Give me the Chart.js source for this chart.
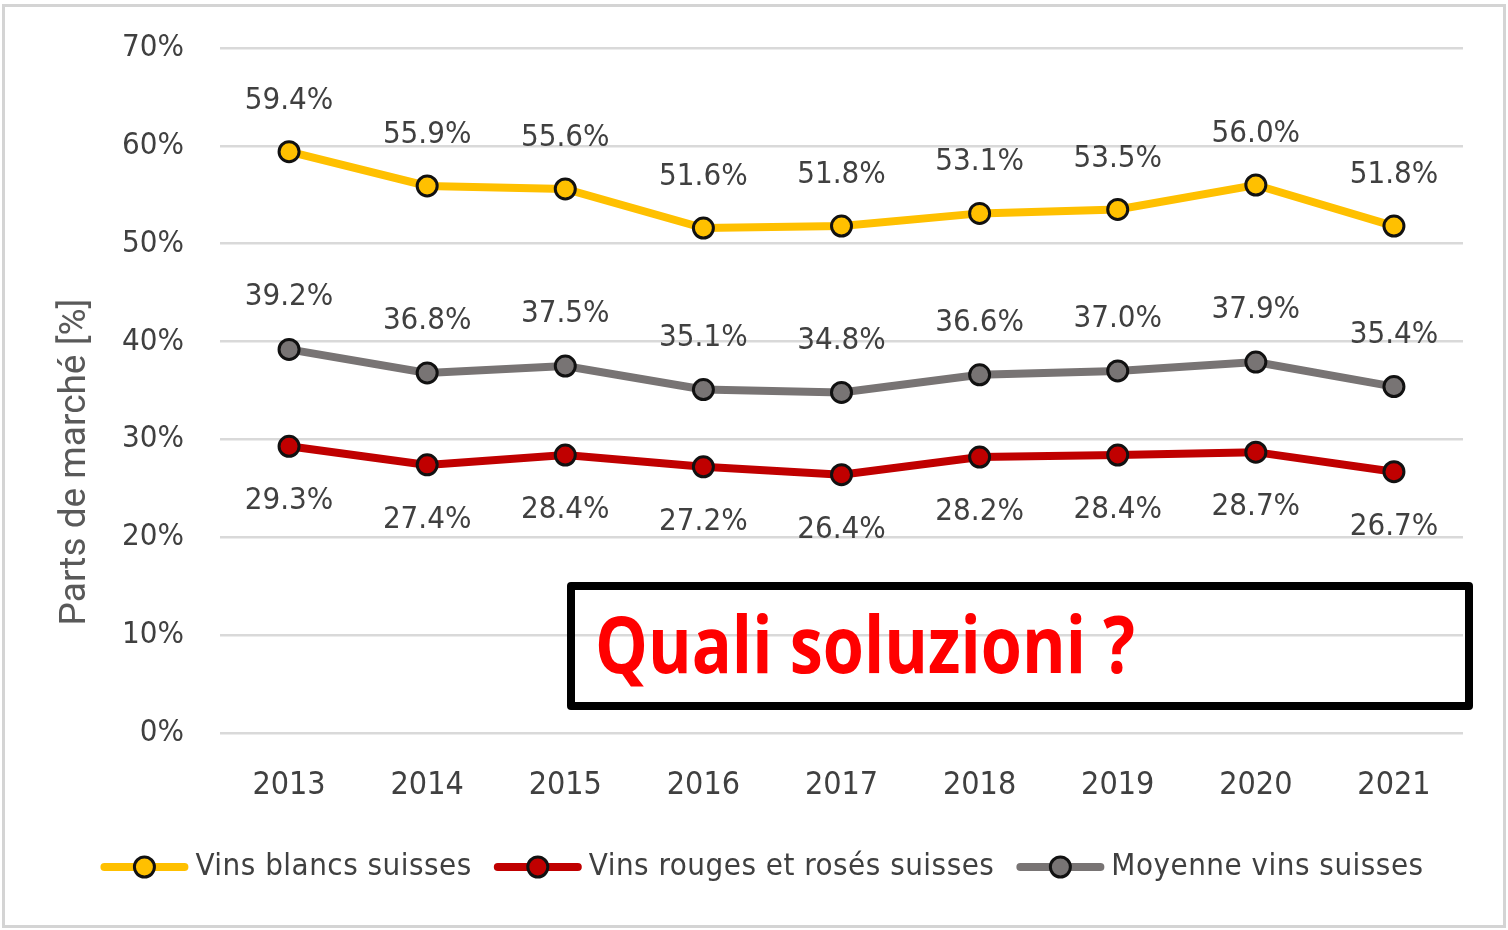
<!DOCTYPE html>
<html>
<head>
<meta charset="utf-8">
<script src="https://cdn.jsdelivr.net/npm/chart.js@4"></script>
<style>
  html, body { margin: 0; padding: 0; background: #fff; }
  canvas { display: block; }
</style>
</head>
<body>
<canvas id="chart" width="1508" height="930"></canvas>
<script>
// Values
const years = ['2013', '2014', '2015', '2016', '2017', '2018', '2019', '2020', '2021'];
const blancs = [59.4, 55.9, 55.6, 51.6, 51.8, 53.1, 53.5, 56.0, 51.8];
const rouges = [29.3, 27.4, 28.4, 27.2, 26.4, 28.2, 28.4, 28.7, 26.7];
const moyenne = [39.2, 36.8, 37.5, 35.1, 34.8, 36.6, 37.0, 37.9, 35.4];
const yTicks = [0, 10, 20, 30, 40, 50, 60, 70];

const DIN = "'DejaVu Sans Condensed', 'DejaVu Sans', sans-serif";
const TXT = '#404040';

const COLORS = { yellow: '#FFC000', red: '#C00000', gray: '#787474' };

// data labels above/below each point
const labelPlugin = {
  id: 'pointLabels',
  afterDatasetsDraw(chart) {
    const ctx = chart.ctx;
    ctx.save();
    ctx.font = `31px ${DIN}`;
    ctx.fillStyle = TXT;
    ctx.textAlign = 'center';
    ctx.textBaseline = 'middle';
    chart.data.datasets.forEach((ds, di) => {
      const meta = chart.getDatasetMeta(di);
      meta.data.forEach((pt, i) => {
        ctx.fillText(ds.data[i].toFixed(1) + '%', pt.x, pt.y + ds.labelOffset);
      });
    });
    ctx.restore();
  }
};

// frame, y title, legend and the annotation box
const decorPlugin = {
  id: 'decor',
  afterDraw(chart) {
    const ctx = chart.ctx;
    ctx.save();

    // outer frame
    ctx.strokeStyle = '#d4d4d4';
    ctx.lineWidth = 3;
    ctx.strokeRect(3.5, 5.5, 1501, 921);

    // y axis title
    ctx.save();
    ctx.translate(76, 462);
    ctx.rotate(-Math.PI / 2);
    ctx.font = "37px Roboto, 'Noto Sans', sans-serif";
    ctx.fillStyle = '#595959';
    ctx.textAlign = 'center';
    ctx.textBaseline = 'middle';
    ctx.fillText('Parts de marché [%]', 0, 0);
    ctx.restore();

    // legend
    const items = chart.data.datasets.slice().sort((a, b) => a.legendOrder - b.legendOrder);
    ctx.font = `31px ${DIN}`;
    ctx.letterSpacing = '0.5px';
    const lineLen = 88, gapText = 7, gapItem = 22;
    const widths = items.map(d => ctx.measureText(d.label).width);
    const total = widths.reduce((s, w) => s + lineLen + gapText + w, 0) + gapItem * (items.length - 1);
    let x = 762 - total / 2;
    const ly = 867;
    items.forEach((d, i) => {
      ctx.strokeStyle = d.borderColor;
      ctx.lineWidth = 8;
      ctx.lineCap = 'round';
      ctx.beginPath();
      ctx.moveTo(x + 4, ly);
      ctx.lineTo(x + lineLen - 4, ly);
      ctx.stroke();
      ctx.beginPath();
      ctx.arc(x + lineLen / 2, ly, 10, 0, Math.PI * 2);
      ctx.fillStyle = d.pointBackgroundColor;
      ctx.fill();
      ctx.lineWidth = 3;
      ctx.strokeStyle = '#111';
      ctx.stroke();
      ctx.fillStyle = TXT;
      ctx.textAlign = 'left';
      ctx.textBaseline = 'middle';
      ctx.fillText(d.label, x + lineLen + gapText, ly);
      x += lineLen + gapText + widths[i] + gapItem;
    });
    ctx.letterSpacing = '0px';

    // annotation box
    ctx.strokeStyle = '#000';
    ctx.lineWidth = 8;
    ctx.lineJoin = 'round';
    ctx.strokeRect(571, 586, 898, 120);
    const msg = 'Quali soluzioni ?';
    ctx.font = "bold 78px 'Open Sans', sans-serif";
    const w = ctx.measureText(msg).width;
    ctx.save();
    ctx.translate(595, 673);
    ctx.scale(540 / w, 1);
    ctx.fillStyle = '#FF0000';
    ctx.textAlign = 'left';
    ctx.textBaseline = 'alphabetic';
    ctx.fillText(msg, 0, 0);
    ctx.restore();

    ctx.restore();
  }
};

function series(label, data, color, labelOffset, legendOrder) {
  return {
    label, data, labelOffset, legendOrder,
    borderColor: color,
    backgroundColor: color,
    borderWidth: 8,
    tension: 0,
    pointRadius: 10,
    pointHoverRadius: 10,
    pointBackgroundColor: color,
    pointBorderColor: '#111',
    pointBorderWidth: 3
  };
}

new Chart(document.getElementById('chart').getContext('2d'), {
  type: 'line',
  data: {
    labels: years,
    datasets: [
      series('Moyenne vins suisses', moyenne, COLORS.gray, -52, 2),
      series('Vins rouges et rosés suisses', rouges, COLORS.red, 55, 1),
      series('Vins blancs suisses', blancs, COLORS.yellow, -51, 0)
    ]
  },
  options: {
    responsive: false,
    animation: false,
    layout: { padding: { left: 0, right: 45, top: 48, bottom: 117 } },
    plugins: {
      legend: { display: false },
      tooltip: { enabled: false }
    },
    scales: {
      x: {
        offset: true,
        grid: { display: false },
        border: { display: false },
        ticks: { color: TXT, font: { family: DIN, size: 32 }, padding: 25, maxRotation: 0 },
        afterFit: s => { s.height = 80; }
      },
      y: {
        min: 0,
        max: 70,
        afterBuildTicks: s => { s.ticks = yTicks.map(v => ({ value: v })); },
        grid: { color: '#d9d9d9', lineWidth: 2.5, drawTicks: false },
        border: { display: false },
        ticks: { color: TXT, font: { family: DIN, size: 31 }, padding: 36, callback: v => v + '%' },
        afterFit: s => { s.width = 220; s.paddingTop = 0; s.paddingBottom = 0; }
      }
    }
  },
  plugins: [labelPlugin, decorPlugin]
});
</script>
</body>
</html>
